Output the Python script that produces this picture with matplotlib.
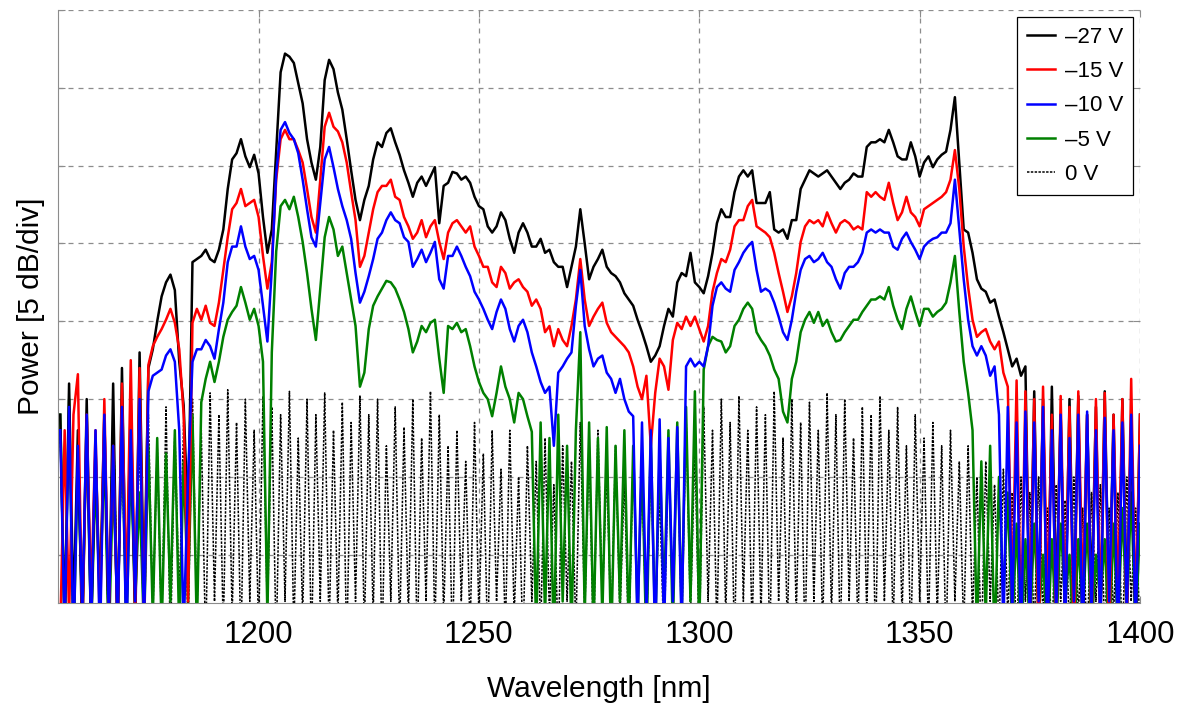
import numpy as np
import matplotlib
matplotlib.use("Agg")
import matplotlib.pyplot as plt

plt.rcParams['font.family'] = ['Liberation Sans', 'DejaVu Sans']

# wavelength grid, 1 nm step, 1155..1400 nm
wl_start = 1155

# spectra in dB (relative), 10 values per row
p_27 = [
    -26, -40, -24, -39, -27, -41, -25, -40, -28, -38,           # 1155
    -26, -40, -24, -41, -23, -39, -25, -40, -22, -38,           # 1165
    -23, -21.8, -20.0, -18.4, -17.5, -17.0, -18.0, -22.6, -25.4, -33,  # 1175
    -16.2, -16.0, -15.8, -15.4, -16.0, -16.2, -15.4, -14.1, -11.5, -9.6,  # 1185
    -9.2, -8.3, -9.4, -10.1, -9.3, -10.5, -13.3, -15.6, -14.1, -9.0,   # 1195
    -4.0, -2.8, -3.0, -3.4, -4.7, -6.0, -8.3, -9.8, -10.9, -8.8,       # 1205
    -4.5, -3.2, -3.8, -5.3, -6.4, -8.3, -10.3, -12.2, -13.5, -12.2,    # 1215
    -11.3, -9.6, -8.5, -8.8, -7.9, -7.6, -8.5, -9.3, -10.3, -11.1,     # 1225
    -12.0, -11.1, -10.7, -11.3, -10.7, -10.1, -13.7, -11.3, -11.1, -10.4,  # 1235
    -10.5, -10.9, -10.7, -11.1, -12.0, -12.6, -12.8, -13.9, -14.3, -13.9,  # 1245
    -13.0, -13.5, -14.7, -15.6, -14.3, -13.7, -14.3, -15.2, -15.2, -14.7,  # 1255
    -15.6, -15.4, -16.2, -16.5, -16.5, -17.8, -16.5, -15.2, -12.8, -15.0,  # 1265
    -17.3, -16.5, -16.0, -15.4, -16.5, -16.9, -17.1, -17.5, -18.2, -18.6,  # 1275
    -19.0, -19.9, -20.7, -21.6, -22.6, -22.2, -21.6, -20.3, -19.2, -19.7,  # 1285
    -17.5, -16.9, -17.1, -15.6, -17.5, -17.8, -18.2, -17.1, -15.6, -13.7,  # 1295
    -12.8, -13.3, -13.3, -11.7, -10.7, -10.3, -10.7, -10.3, -12.4, -12.4,  # 1305
    -12.4, -11.7, -14.1, -14.3, -14.1, -14.7, -13.5, -13.5, -11.5, -10.9,  # 1315
    -10.3, -10.5, -10.7, -10.5, -10.3, -10.7, -11.1, -11.5, -11.1, -10.9,  # 1325
    -10.5, -10.7, -10.7, -8.8, -8.5, -8.5, -8.3, -8.5, -7.7, -8.5,         # 1335
    -9.4, -9.6, -9.6, -8.5, -9.4, -10.7, -9.8, -9.4, -10.1, -9.6,          # 1345
    -9.3, -9.1, -7.7, -5.6, -9.8, -14.1, -14.3, -15.6, -17.3, -17.9,       # 1355
    -18.1, -18.8, -18.6, -19.7, -20.7, -21.8, -22.9, -22.4, -23.5, -22.9,  # 1365
    -40, -24.5, -39, -25, -41, -24.2, -38, -26, -40, -25,                  # 1375
    -39, -24.8, -41, -26, -38, -25.5, -40, -24.5, -39, -26,                # 1385
    -41, -25, -38, -27, -40, -26,                                          # 1395
]

p_15 = [
    -40, -27, -39, -26, -23.4, -40, -26, -38, -27, -40,
    -25, -39, -28, -40, -24, -38, -22.5, -39, -23, -40,
    -22.8, -21.6, -21.0, -20.5, -19.9, -19.2, -20.1, -21.8, -26, -38,
    -20.1, -19.2, -19.9, -19.0, -20.1, -20.3, -18.8, -16.7, -14.6, -12.8,
    -12.4, -11.5, -12.6, -12.4, -12.2, -13.3, -15.8, -17.9, -16.2, -10.9,
    -8.3, -7.7, -8.3, -8.3, -9.0, -9.8, -11.5, -13.3, -14.3, -10.9,
    -7.5, -6.6, -7.5, -7.8, -8.5, -9.8, -11.7, -13.5, -16.5, -15.8,
    -14.3, -12.8, -11.7, -11.3, -11.3, -10.9, -12.0, -12.2, -13.3, -13.9,
    -14.7, -14.3, -13.5, -14.6, -13.9, -13.5, -14.9, -16.0, -14.3, -13.7,
    -13.5, -13.9, -14.3, -13.9, -15.2, -15.8, -16.5, -16.5, -17.5, -17.8,
    -16.5, -16.9, -17.9, -17.5, -17.3, -17.8, -18.1, -19.0, -18.6, -19.2,
    -20.7, -20.3, -21.6, -20.5, -21.2, -21.6, -20.3, -18.6, -16.0, -18.6,
    -20.3, -19.7, -19.2, -18.8, -20.1, -20.7, -21.0, -21.3, -21.6, -22.0,
    -22.9, -24.2, -25.0, -23.5, -28.0, -24.6, -22.4, -22.9, -24.4, -21.2,
    -20.1, -20.5, -19.7, -20.3, -19.7, -20.5, -21.3, -20.3, -18.1, -16.9,
    -16.0, -16.2, -15.4, -13.9, -13.5, -13.5, -12.6, -12.2, -13.9, -14.1,
    -14.3, -14.6, -15.6, -16.9, -18.1, -19.4, -18.4, -16.9, -14.9, -13.9,
    -13.5, -13.7, -13.5, -13.9, -13.0, -13.7, -14.3, -13.7, -13.5, -13.7,
    -14.1, -13.9, -14.1, -11.7, -12.0, -11.7, -12.0, -12.2, -11.1, -12.4,
    -13.5, -13.0, -12.0, -13.0, -13.3, -13.9, -12.8, -12.6, -12.4, -12.2,
    -12.0, -11.7, -10.9, -9.0, -11.5, -15.2, -17.8, -19.9, -21.0, -20.7,
    -20.5, -21.3, -21.8, -21.3, -23.3, -24.2, -38, -23.8, -40, -24.5,
    -39, -25, -41, -24.2, -38, -26, -40, -24.8, -39, -25.5,
    -41, -24.5, -38, -26, -40, -25, -39, -24.6, -41, -26,
    -38, -25, -40, -23.7, -39, -26,
]

p_10 = [
    -27, -40, -25.5, -41, -28, -39, -26, -40, -27, -41,
    -26, -39, -28, -40, -25.5, -41, -27, -38, -25, -40,
    -24.5, -23.5, -23.3, -23.1, -22.2, -21.8, -22.6, -27, -40, -30,
    -22.6, -21.8, -21.8, -21.2, -21.6, -22.4, -20.5, -18.8, -16.2, -15.2,
    -15.2, -13.9, -15.2, -16.0, -15.8, -16.7, -19.0, -21.3, -16.7, -10.5,
    -7.7, -7.2, -7.9, -8.3, -9.2, -10.9, -12.8, -14.6, -15.2, -12.4,
    -9.6, -8.8, -10.1, -11.5, -12.6, -13.5, -14.7, -16.9, -18.8, -18.1,
    -17.1, -16.0, -14.7, -14.3, -13.5, -13.0, -13.5, -13.7, -14.6, -14.9,
    -16.5, -16.0, -15.4, -16.2, -15.6, -14.9, -17.3, -17.9, -15.8, -15.8,
    -15.2, -15.8, -16.5, -17.1, -18.1, -18.6, -19.2, -19.9, -20.5, -19.4,
    -18.6, -19.2, -20.5, -21.3, -20.3, -19.9, -20.7, -22.0, -22.9, -23.9,
    -24.6, -24.2, -28.0, -23.3, -22.9, -22.4, -22.0, -19.0, -16.7, -20.3,
    -21.8, -22.9, -22.4, -22.2, -23.3, -23.7, -24.6, -23.7, -25.0, -25.8,
    -26.1, -40, -26.5, -39, -27, -41, -26.3, -40, -27.5, -38,
    -26.8, -40, -22.9, -22.4, -22.9, -22.6, -22.9, -21.6, -19.0, -17.8,
    -17.5, -17.9, -18.1, -16.7, -16.2, -15.6, -15.2, -14.9, -16.7, -18.1,
    -17.9, -18.1, -18.8, -19.7, -20.7, -21.2, -19.9, -18.1, -16.7, -16.0,
    -15.8, -16.2, -16.0, -15.6, -16.2, -16.5, -17.3, -17.9, -16.9, -16.5,
    -16.5, -16.2, -15.6, -14.3, -14.1, -14.3, -14.1, -14.3, -14.3, -15.2,
    -15.4, -14.7, -14.3, -14.9, -15.4, -16.0, -15.2, -14.9, -14.7, -14.6,
    -14.3, -14.3, -13.7, -10.9, -14.1, -17.3, -19.9, -21.6, -22.2, -21.6,
    -22.2, -23.5, -22.9, -26, -40, -25.5, -39, -26.5, -41, -25.8,
    -40, -26.5, -38, -25.5, -41, -27, -39, -26, -40, -27.5,
    -38, -26, -41, -25.8, -39, -27, -40, -26.2, -38, -27,
    -41, -26.5, -39, -26, -40, -28,
]

p_5 = [
    -26, -40, -25, -41, -29, -39, -27, -40, -30, -38,
    -28, -41, -30, -39, -27, -40, -29, -38, -31, -40,
    -28, -39, -27.5, -40, -28.5, -38, -27, -40, -29, -38,
    -26, -40, -25.2, -23.7, -22.6, -23.9, -22.6, -21.0, -19.9, -19.4,
    -19.0, -17.8, -18.8, -19.9, -19.2, -20.3, -22.6, -39, -22.0, -15.5,
    -12.6, -12.2, -12.8, -12.0, -13.3, -14.9, -16.9, -19.2, -21.2, -17.9,
    -14.6, -13.3, -14.1, -15.8, -15.2, -16.9, -18.6, -20.3, -24.2, -23.3,
    -20.5, -19.0, -18.4, -17.9, -17.4, -17.5, -17.9, -18.6, -19.4, -20.5,
    -22.0, -21.3, -20.3, -20.7, -20.1, -19.9, -22.4, -24.6, -20.3, -20.5,
    -20.1, -20.7, -20.5, -21.6, -22.9, -23.9, -24.6, -25.0, -26.1, -24.6,
    -22.9, -24.2, -25.0, -26.5, -24.6, -25.0, -26.1, -27.1, -40, -26.5,
    -39, -27.5, -41, -26, -38, -28, -40, -27, -20.7, -39,
    -26.5, -40, -27.5, -39, -26.8, -41, -28, -38, -27, -40,
    -28, -39, -29, -41, -27.5, -40, -28.5, -38, -27, -40,
    -26.5, -39, -25.5, -38, -24.5, -40, -23.1, -21.6, -21.0, -21.2,
    -21.3, -22.0, -21.6, -20.3, -19.9, -19.2, -18.8, -19.2, -20.7, -21.2,
    -21.6, -22.2, -23.1, -23.7, -25.8, -26.5, -23.7, -22.6, -20.7, -19.9,
    -19.4, -20.1, -19.4, -20.3, -19.9, -20.7, -21.3, -21.2, -20.7, -20.3,
    -19.9, -19.9, -19.4, -19.0, -18.6, -18.6, -18.4, -18.6, -17.8, -19.0,
    -19.9, -20.5, -19.2, -18.4, -19.4, -20.3, -19.2, -19.2, -19.7, -19.4,
    -19.2, -18.8, -17.5, -15.8, -19.4, -22.6, -24.6, -27, -40, -29,
    -39, -28, -41, -30, -38, -31, -40, -33, -41, -34,
    -40, -33, -39, -35, -41, -34, -40, -33, -38, -35,
    -41, -34, -39, -33, -40, -35, -38, -34, -41, -33,
    -40, -32, -39, -31, -40, -33,
]

p_0 = [
    -27, -40, -25, -41, -28, -39, -26, -40, -29, -38,
    -27, -41, -25.5, -39, -28, -40, -26, -38, -27.5, -41,
    -26, -39, -28, -40, -25.5, -41, -27, -38, -26.5, -40,
    -25, -39, -27, -41, -24.6, -38, -26, -40, -24.4, -39,
    -26.5, -41, -25, -38, -27, -40, -24.8, -39, -25.5, -41,
    -26, -38, -24.5, -40, -27.5, -39, -25, -41, -26, -38,
    -24.6, -40, -27, -39, -25.2, -41, -26.5, -38, -24.8, -40,
    -26, -39, -25, -41, -28, -38, -25.5, -40, -26.8, -39,
    -25, -41, -27.5, -38, -24.5, -40, -26, -39, -28, -41,
    -27, -38, -29, -40, -26.5, -39, -28.5, -41, -27, -38,
    -29.5, -40, -27, -39, -30, -41, -28, -38, -29, -40,
    -27.5, -39, -30.5, -41, -28, -38, -29, -40, -26.5, -39,
    -28, -41, -27, -38, -29.5, -40, -28, -39, -30, -41,
    -28.5, -38, -30, -40, -29, -39, -31, -41, -28, -38,
    -27, -40, -26, -39, -28, -41, -25.5, -38, -27, -40,
    -25, -39, -26.5, -41, -24.8, -38, -27, -40, -25.5, -39,
    -26, -41, -24.5, -38, -27.5, -40, -25, -39, -26.5, -41,
    -25.2, -38, -27, -40, -24.6, -39, -26, -41, -25, -38,
    -27.5, -40, -25.5, -39, -26, -41, -24.8, -38, -27, -40,
    -25.5, -39, -28, -41, -26, -38, -27.5, -40, -26.5, -39,
    -28, -41, -27, -38, -29, -40, -28, -39, -30, -41,
    -29, -38, -30.5, -40, -29.5, -39, -31, -41, -30, -38,
    -31, -40, -30, -39, -32, -41, -30.5, -38, -31.5, -40,
    -30, -39, -32, -41, -31, -38, -30.5, -40, -32, -39,
    -31, -41, -30, -38, -32, -40,
]

labels = ['\u201327 V', '\u201315 V', '\u201310 V', '\u20135 V', '0 V']
colors = ['k', '#ff0000', '#0000ff', '#008000', 'k']
xticks = [1200, 1250, 1300, 1350, 1400]

fig = plt.figure(figsize=(11.8, 7.06), dpi=100)
ax = fig.add_axes([0.0492, 0.1459, 0.9169, 0.8399])

wl = wl_start + np.arange(len(p_27))

l0, = ax.plot(wl_start + np.arange(len(p_0)), p_0, color=colors[4], lw=1.1,
              ls=(0, (1.6, 0.9)), zorder=1.5, label=labels[4])
l5, = ax.plot(wl_start + np.arange(len(p_5)), p_5, color=colors[3], lw=1.8,
              zorder=2, label=labels[3])
l27, = ax.plot(wl, p_27, color=colors[0], lw=1.8, zorder=3, label=labels[0])
l15, = ax.plot(wl_start + np.arange(len(p_15)), p_15, color=colors[1], lw=1.8,
               zorder=4, label=labels[1])
l10, = ax.plot(wl_start + np.arange(len(p_10)), p_10, color=colors[2], lw=1.8,
               zorder=5, label=labels[2])

ax.set_xlim(1154.5, 1400)
ax.set_ylim(-38.1, 0)
ax.set_xticks(xticks)
ax.set_yticks(np.arange(-35, 1, 5))
ax.set_yticklabels([])
ax.grid(True, color='#8c8c8c', ls=(0, (4, 4)), lw=0.9)
ax.set_axisbelow(True)

for s in ['top', 'right']:
    ax.spines[s].set_visible(False)
for s in ['left', 'bottom']:
    ax.spines[s].set_color('#8c8c8c')
ax.tick_params(axis='both', direction='in', length=5, color='#8c8c8c',
               top=True, right=True)
ax.tick_params(axis='x', labelsize=22.5, pad=12)

ax.set_xlabel('Wavelength [nm]', fontsize=21.5, labelpad=18)
ax.set_ylabel('Power [5 dB/div]', fontsize=21.5, labelpad=6)

leg = ax.legend(handles=[l27, l15, l10, l5, l0], loc='upper right',
                fontsize=16, fancybox=False, framealpha=1, edgecolor='k',
                handlelength=1.25, handletextpad=0.45, labelspacing=0.6,
                borderpad=0.45, borderaxespad=0.3)
leg.get_frame().set_linewidth(0.9)
leg.set_zorder(10)

fig.savefig('out.png', dpi=100)
